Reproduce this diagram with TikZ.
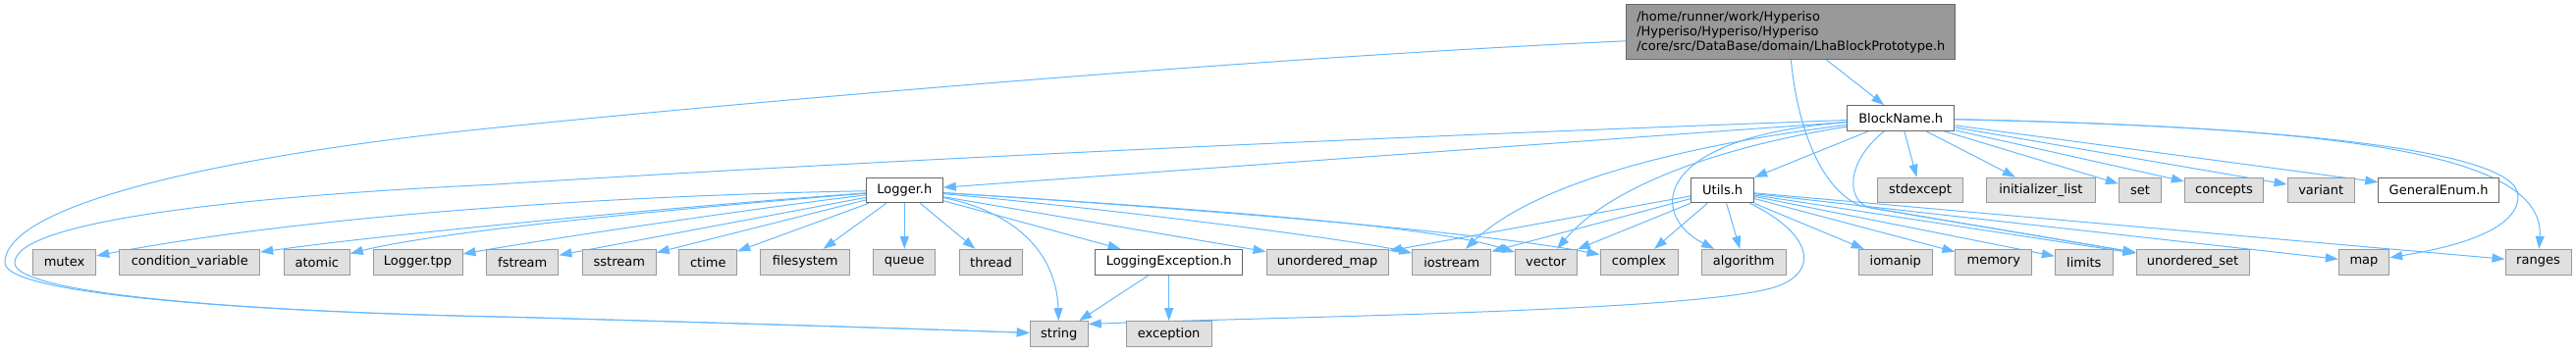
\documentclass[tikz,border=0pt]{standalone}
\usepackage{fontspec}
\setmainfont{DejaVu Sans}
\usetikzlibrary{arrows.meta,calc,backgrounds}
\definecolor{edgec}{HTML}{63B8FF}
\definecolor{extfill}{HTML}{E0E0E0}
\definecolor{extdraw}{HTML}{999999}
\definecolor{intdraw}{HTML}{666666}
\definecolor{topfill}{HTML}{999999}
\tikzset{
  box/.style={draw, line width=1pt, inner sep=0pt, font=\fontsize{13}{15}\selectfont, text=black, anchor=center},
  ext/.style={box, fill=extfill, draw=extdraw, minimum height=25.7pt},
  int/.style={box, fill=white, draw=intdraw, minimum height=25.7pt},
  edge/.style={draw=edgec, line width=1pt, -{Triangle[length=13pt,width=9pt]}},
}
\begin{document}
\begin{tikzpicture}[x=1pt,y=-1pt]
\useasboundingbox (0,0) rectangle (2624,359);
% top node
\node[box, fill=topfill, draw=intdraw, minimum width=335.3pt, minimum height=55.6pt,
      text width=314pt, align=left, inner xsep=10.65pt, inner ysep=0pt] (T) at (1824.3,32.5)
  {/home/runner/work/Hyperiso\\/Hyperiso/Hyperiso/Hyperiso\\/core/src/DataBase/domain/LhaBlockPrototype.h};
% row 2
\node[int, minimum width=109.5pt] (B) at (1936.2,120.5) {BlockName.h};
% row 3
\node[int, minimum width=78pt] (L) at (921.3,194) {Logger.h};
\node[int, minimum width=64pt] (U) at (1754.7,194) {Utils.h};
\node[ext, minimum width=87.4pt] (sx) at (1956,194) {stdexcept};
\node[ext, minimum width=111pt] (il) at (2078.8,194) {initializer\_list};
\node[ext, minimum width=43.4pt] (set) at (2180,194) {set};
\node[ext, minimum width=80.4pt] (cc) at (2265.5,194) {concepts};
\node[ext, minimum width=68.3pt] (va) at (2364.2,194) {variant};
\node[int, minimum width=123pt] (ge) at (2484.2,194) {GeneralEnum.h};
% row 4
\node[ext, minimum width=64.4pt] (mutex) at (65.5,267.2) {mutex};
\node[ext, minimum width=142.7pt] (cv) at (193.3,267.2) {condition\_variable};
\node[ext, minimum width=67pt] (atomic) at (322.8,267.2) {atomic};
\node[ext, minimum width=91pt] (lt) at (425.5,267.2) {Logger.tpp};
\node[ext, minimum width=73.3pt] (fs) at (532.3,267.2) {fstream};
\node[ext, minimum width=75pt] (ss) at (630.8,267.2) {sstream};
\node[ext, minimum width=58.7pt] (ct) at (721.3,267.2) {ctime};
\node[ext, minimum width=91pt] (fsy) at (820.2,267.2) {filesystem};
\node[ext, minimum width=62.7pt] (qu) at (921.3,267.2) {queue};
\node[ext, minimum width=64.4pt] (th) at (1009.5,267.2) {thread};
\node[int, minimum width=150pt] (le) at (1190.7,267.2) {LoggingException.h};
\node[ext, minimum width=124.3pt] (um) at (1352.2,267.2) {unordered\_map};
\node[ext, minimum width=80.3pt] (io) at (1478.8,267.2) {iostream};
\node[ext, minimum width=63pt] (ve) at (1574.8,267.2) {vector};
\node[ext, minimum width=79pt] (cx) at (1669.5,267.2) {complex};
\node[ext, minimum width=85.7pt] (al) at (1776.2,267.2) {algorithm};
\node[ext, minimum width=75pt] (im) at (1930.8,267.2) {iomanip};
\node[ext, minimum width=77.7pt] (me) at (2030.8,267.2) {memory};
\node[ext, minimum width=59pt] (li) at (2122.8,267.2) {limits};
\node[ext, minimum width=115pt] (us) at (2233.5,267.2) {unordered\_set};
\node[ext, minimum width=51.4pt] (map) at (2408,267.2) {map};
\node[ext, minimum width=67pt] (ra) at (2585.5,267.2) {ranges};
% row 5
\node[ext, minimum width=59pt] (st) at (1078.8,340.5) {string};
\node[ext, minimum width=86.7pt] (ex) at (1190.7,340.5) {exception};

\begin{pgfonlayer}{background}
% top node
\draw[edge] (T) -- (B);
\draw[edge] (T.south) .. controls (1830,120) and (1850,190) .. (1895,210) -- (us);
\draw[edge] ($(T.south west)+(0,-19)$) .. controls (1300,58) and (800,100) .. (500,130.7)
  .. controls (250,156) and (5,205) .. (5,268)
  .. controls (5,300) and (250,318) .. (520,323.3)
  .. controls (800,331) and (950,336) .. (st);
% BlockName.h
\draw[edge] (B) .. controls (1400,140) and (900,163) .. (500,188.3)
  .. controls (250,200) and (15,225) .. (15,268)
  .. controls (15,300) and (250,318) .. (520,323.3)
  .. controls (800,331) and (950,336) .. (st);
\draw[edge] (B) -- (L);
\draw[edge] (B) .. controls (1700,150) and (1560,190) .. (io);
\draw[edge] (B) .. controls (1750,150) and (1640,190) .. (ve);
\draw[edge] (B) .. controls (1680,140) and (1680,220) .. ($(al.north)+(-30,0)$);
\draw[edge] (B) -- (U);
\draw[edge] (B) .. controls (1880,165) and (1880,205) .. (1905,212) -- (us);
\draw[edge] (B) -- (sx);
\draw[edge] (B) -- (il);
\draw[edge] (B) -- (set);
\draw[edge] (B) -- (cc);
\draw[edge] (B) -- (va);
\draw[edge] (B) -- (ge);
\draw[edge] (B) .. controls (2300,128) and (2565,150) .. (2565,200)
  .. controls (2565,240) and (2480,255) .. (map);
\draw[edge] (B) .. controls (2350,130) and (2593,150) .. (ra);
% Logger.h
\draw[edge] (L) .. controls (600,200) and (300,222) .. (mutex);
\draw[edge] (L) .. controls (700,210) and (400,238) .. (cv);
\draw[edge] (L) .. controls (700,212) and (450,235) .. (atomic);
\draw[edge] (L) .. controls (750,215) and (550,245) .. (lt);
\draw[edge] (L) -- (fs);
\draw[edge] (L) -- (ss);
\draw[edge] (L) -- (ct);
\draw[edge] (L) -- (fsy);
\draw[edge] (L) -- (qu);
\draw[edge] (L) -- (th);
\draw[edge] (L) .. controls (1030,215) and (1076,255) .. (st);
\draw[edge] (L) -- (le);
\draw[edge] (L) -- (um);
\draw[edge] (L) .. controls (1150,215) and (1380,245) .. (io);
\draw[edge] (L) .. controls (1200,212) and (1450,228) .. (ve);
\draw[edge] (L) .. controls (1200,212) and (1500,235) .. (cx);
% LoggingException.h
\draw[edge] (le) -- (st);
\draw[edge] (le) -- (ex);
% Utils.h
\draw[edge] (U) -- (um);
\draw[edge] (U) -- (io);
\draw[edge] (U) -- (ve);
\draw[edge] (U) -- (cx);
\draw[edge] (U) -- (al);
\draw[edge] (U) .. controls (1850,240) and (1855,282) .. (1800,295)
  .. controls (1700,318.6) and (1300,323) .. ($(st.east)+(0,-10)$);
\draw[edge] (U) -- (im);
\draw[edge] (U) -- (me);
\draw[edge] (U) -- (li);
\draw[edge] (U) -- (us);
\draw[edge] (U) -- (map);
\draw[edge] (U) -- (ra);
\end{pgfonlayer}
\end{tikzpicture}
\end{document}
